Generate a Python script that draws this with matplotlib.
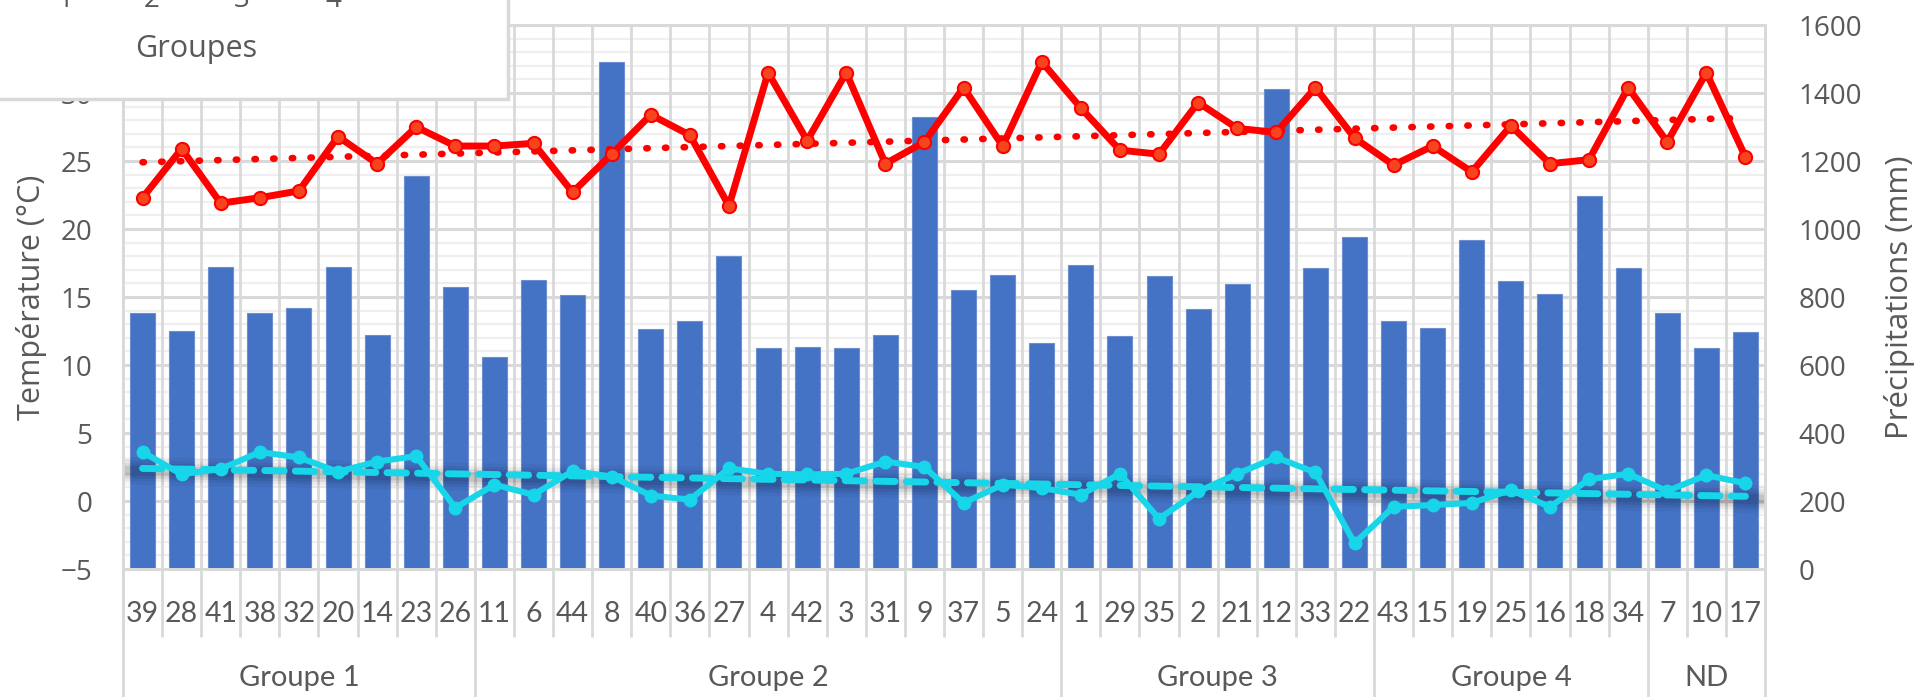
import numpy as np
import matplotlib
matplotlib.use("Agg")
import matplotlib.pyplot as plt
from matplotlib.patches import Rectangle
from matplotlib.ticker import MultipleLocator

# ---- data -------------------------------------------------------------
stations = ["39", "28", "41", "38", "32", "20", "14", "23", "26",
            "11", "6", "44", "8", "40", "36", "27", "4", "42", "3", "31", "9", "37", "5", "24",
            "1", "29", "35", "2", "21", "12", "33", "22",
            "43", "15", "19", "25", "16", "18", "34",
            "7", "10", "17"]
group_names = ["Groupe 1", "Groupe 2", "Groupe 3", "Groupe 4", "ND"]
group_sizes = [9, 15, 8, 7, 3]

precip_mm = [753, 700, 889, 753, 769, 889, 689, 1155, 829,
             625, 849, 805, 1491, 707, 728, 922, 650, 653, 650, 689, 1329, 821, 865, 666,
             893, 686, 862, 766, 837, 1413, 885, 977,
             728, 710, 969, 846, 809, 1097, 885,
             753, 650, 697]
temp_max = [22.3, 25.9, 21.9, 22.3, 22.8, 26.8, 24.8, 27.5, 26.1,
            26.1, 26.3, 22.7, 25.5, 28.4, 26.9, 21.7, 31.5, 26.5, 31.5, 24.8, 26.4, 30.4, 26.1, 32.3,
            28.9, 25.8, 25.5, 29.3, 27.4, 27.1, 30.4, 26.7,
            24.7, 26.1, 24.2, 27.6, 24.8, 25.1, 30.4,
            26.4, 31.5, 25.3]
temp_min = [3.6, 1.96, 2.36, 3.6, 3.2, 2.15, 2.9, 3.3, -0.5,
            1.2, 0.46, 2.2, 1.8, 0.4, 0.1, 2.4, 2.0, 1.96, 2.0, 2.9, 2.5, -0.14, 1.2, 0.95,
            0.46, 2.0, -1.3, 0.7, 2.0, 3.2, 2.1, -3.1,
            -0.43, -0.3, -0.14, 0.8, -0.43, 1.6, 2.0,
            0.73, 1.9, 1.3]
legend_numbers = ["1", "2", "3", "4"]

# ---- style ------------------------------------------------------------
TXT = "#595959"
GRID = "#d9d9d9"
BAR = "#4472C4"
RED = "#FF0000"
RED_FACE = "#F8431F"
CYAN = "#17D6EA"
UI_FONT = ["Open Sans", "DejaVu Sans"]
CAT_FONT = ["Lato", "DejaVu Sans"]

W, H = 1926, 697
fig = plt.figure(figsize=(W / 100, H / 100), dpi=100)
fig.patch.set_facecolor("white")

left_px, right_px, top_px, bot_px = 123, 1765, 25, 569
ax2 = fig.add_axes([left_px / W, 1 - bot_px / H,
                    (right_px - left_px) / W, (bot_px - top_px) / H])
ax = ax2.twinx()
# temperature axis on the left, precipitation on the right
ax.yaxis.tick_left()
ax.yaxis.set_label_position("left")
ax2.yaxis.tick_right()
ax2.yaxis.set_label_position("right")
ax.set_zorder(ax2.get_zorder() + 1)
ax.patch.set_visible(False)

n = len(stations)
x = np.arange(n)

# ---- precipitation bars + grid -----------------------------------------
ax2.set_ylim(0, 1600)
ax2.yaxis.set_major_locator(MultipleLocator(200))
ax2.yaxis.set_minor_locator(MultipleLocator(40))
ax2.set_axisbelow(True)
ax2.grid(which="major", axis="y", color=GRID, lw=2.2)
ax2.grid(which="minor", axis="y", color="#efefef", lw=1.6)
ax2.vlines(np.arange(n + 1) - 0.5, 0, 1600, color=GRID, lw=2.0, zorder=0.6)
ax2.bar(x, precip_mm, width=0.64, color=BAR, edgecolor="#6d8fd0", linewidth=0.8, zorder=2)

# ---- temperature lines -------------------------------------------------
ax.set_ylim(-5, 35)
ax.set_yticks(np.arange(-5, 36, 5))
ax.set_xlim(-0.5, n - 0.5)

coef_max = np.polyfit(x, temp_max, 1)
coef_min = np.polyfit(x, temp_min, 1)
trend_max = np.polyval(coef_max, x)
trend_min = np.polyval(coef_min, x)

# soft shadow under the minimum-temperature trend line
xs_sh = np.array([-0.5, n - 0.5])
for lw, a in [(20, 0.035), (15, 0.05), (11, 0.07), (7, 0.09)]:
    ax.plot(xs_sh, np.polyval(coef_min, xs_sh) - 0.2, color="black", lw=lw,
            alpha=a, solid_capstyle="butt", zorder=2)

ax.plot(x, trend_max, color=RED, lw=4.8, linestyle=(0, (0.2, 2.6)),
        dash_capstyle="round", zorder=3)
ax.plot(x, trend_min, color=CYAN, lw=5, linestyle=(0, (2.8, 1.6)),
        dash_capstyle="round", zorder=3)
ax.plot(x, temp_min, color=CYAN, lw=4.4, marker="o", markersize=9,
        markerfacecolor=CYAN, markeredgecolor=CYAN, zorder=4)
ax.plot(x, temp_max, color=RED, lw=5, marker="o", markersize=9.5,
        markerfacecolor=RED_FACE, markeredgecolor=RED, markeredgewidth=1.5, zorder=5)

# ---- axes decoration ---------------------------------------------------
for a in (ax, ax2):
    for s in a.spines.values():
        s.set_color(GRID)
        s.set_linewidth(2)
    a.tick_params(which="both", length=0, labelsize=20, labelcolor=TXT)

for lab in ax.get_yticklabels() + ax2.get_yticklabels():
    lab.set_fontfamily(UI_FONT)
ax.tick_params(axis="y", pad=22)
ax2.tick_params(axis="y", pad=24)

# station labels live on the visible x axis of the bar axes
ax2.set_xticks(x, stations)
ax2.tick_params(axis="x", pad=23)
for lab in ax2.get_xticklabels():
    lab.set_fontfamily(CAT_FONT)
    lab.set_fontsize(20.5)

ax.set_ylabel("Température (°C)", fontsize=22, color=TXT, family=UI_FONT, labelpad=10)
ax2.set_ylabel("Précipitations (mm)", fontsize=22.5, color=TXT, family=UI_FONT, labelpad=16)

# category separators and group separators below the axis
axis_h = bot_px - top_px
cat_sep = -(637 - bot_px) / axis_h
grp_sep = -(H + 5 - bot_px) / axis_h
xt = ax.get_xaxis_transform()
ax.vlines(np.arange(n + 1) - 0.5, cat_sep, 0, transform=xt, color=GRID, lw=2, clip_on=False)
edges = np.concatenate([[0], np.cumsum(group_sizes)]) - 0.5
ax.vlines(edges, grp_sep, 0, transform=xt, color=GRID, lw=2, clip_on=False)
grp_y = -(678 - bot_px) / axis_h
for name, a0, a1 in zip(group_names, edges[:-1], edges[1:]):
    ax.text((a0 + a1) / 2, grp_y, name, transform=xt, ha="center", va="center",
            fontsize=21, color=TXT, family=CAT_FONT)

# ---- overlapping group key panel ----------------------------------------
box = Rectangle((-10 / W, 1 - 99 / H), 518 / W, 0.3, transform=fig.transFigure,
                facecolor="white", edgecolor=GRID, linewidth=2.5, zorder=10)
fig.patches.append(box)
for lbl, px in zip(legend_numbers, [65, 152, 242, 333]):
    fig.text(px / W, 1 - 7 / H, lbl, ha="center", va="baseline", fontsize=20,
             color=TXT, family=UI_FONT, zorder=11)
fig.text(196 / W, 1 - 57 / H, "Groupes", ha="center", va="baseline", fontsize=22,
         color=TXT, family=UI_FONT, zorder=11)

fig.savefig("out.png", dpi=100, facecolor="white")
